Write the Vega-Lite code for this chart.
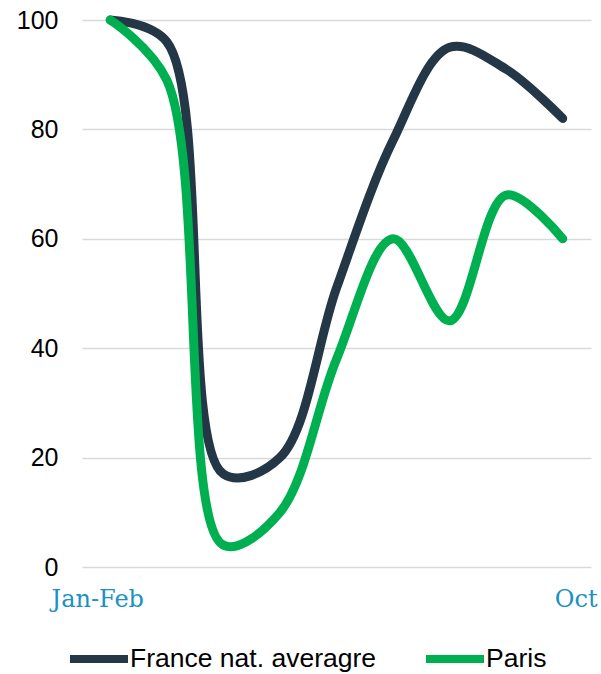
{
  "$schema": "https://vega.github.io/schema/vega-lite/v6.json",
  "autosize": "none",
  "width": 509,
  "height": 547,
  "padding": {"left": 82, "top": 20, "right": 10, "bottom": 107},
  "background": "white",
  "data": {
    "values": [
      {"month": "Jan-Feb", "series": "France nat. averagre", "value": 100},
      {"month": "Mar", "series": "France nat. averagre", "value": 96},
      {"month": "Apr", "series": "France nat. averagre", "value": 17},
      {"month": "May", "series": "France nat. averagre", "value": 20},
      {"month": "Jun", "series": "France nat. averagre", "value": 51},
      {"month": "Jul", "series": "France nat. averagre", "value": 78},
      {"month": "Aug", "series": "France nat. averagre", "value": 95},
      {"month": "Sep", "series": "France nat. averagre", "value": 91},
      {"month": "Oct", "series": "France nat. averagre", "value": 82},
      {"month": "Jan-Feb", "series": "Paris", "value": 100},
      {"month": "Mar", "series": "Paris", "value": 89},
      {"month": "Apr", "series": "Paris", "value": 4},
      {"month": "May", "series": "Paris", "value": 10},
      {"month": "Jun", "series": "Paris", "value": 38},
      {"month": "Jul", "series": "Paris", "value": 60},
      {"month": "Aug", "series": "Paris", "value": 45},
      {"month": "Sep", "series": "Paris", "value": 68},
      {"month": "Oct", "series": "Paris", "value": 60}
    ]
  },
  "mark": {"type": "line", "interpolate": "catmull-rom", "strokeWidth": 9, "strokeCap": "round", "strokeJoin": "round"},
  "encoding": {
    "x": {
      "field": "month", "type": "ordinal",
      "sort": ["Jan-Feb","Mar","Apr","May","Jun","Jul","Aug","Sep","Oct"],
      "scale": {"type": "point", "padding": 0.5},
      "axis": {
        "title": null, "domain": false, "ticks": false, "grid": false,
        "labelAngle": 0,
        "labelExpr": "(datum.value === 'Jan-Feb' || datum.value === 'Oct') ? datum.value : ''",
        "labelOverlap": false,
        "labelFont": "DejaVu Serif", "labelFontSize": 24, "labelColor": "#1a92c4",
        "labelPadding": 20, "labelBaseline": "top",
        "labelOffset": {"condition": {"test": "datum.value === 'Jan-Feb'", "value": -13}, "value": 13}
      }
    },
    "y": {
      "field": "value", "type": "quantitative",
      "scale": {"domain": [0, 100], "nice": false},
      "axis": {
        "title": null, "domain": false, "ticks": false,
        "values": [0, 20, 40, 60, 80, 100],
        "gridColor": "#d9d9d9", "gridWidth": 1.5,
        "labelFont": "Liberation Sans", "labelFontSize": 25, "labelColor": "#000000",
        "labelPadding": 24
      }
    },
    "color": {
      "field": "series", "type": "nominal",
      "scale": {"domain": ["France nat. averagre", "Paris"], "range": ["#243746", "#00b050"]},
      "legend": {
        "title": null, "orient": "none", "direction": "horizontal",
        "legendX": -16, "legendY": 606,
        "symbolType": "stroke", "symbolSize": 3364, "symbolStrokeWidth": 8,
        "labelFont": "Liberation Sans", "labelFontSize": 26.5, "labelColor": "#000000",
        "labelOffset": -2, "columnPadding": 34, "labelLimit": 400
      }
    }
  },
  "config": {"view": {"stroke": null}}
}
